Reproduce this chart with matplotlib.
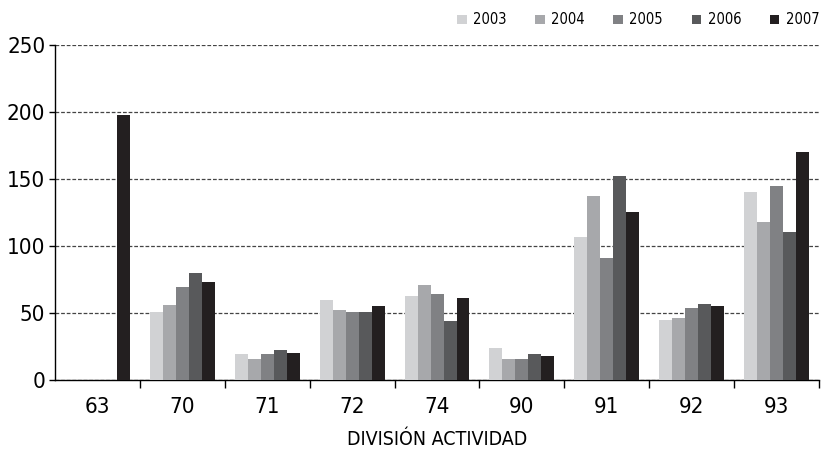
import numpy as np
import matplotlib.pyplot as plt

# 데이터
divisiones = ['63', '70', '71', '72', '74', '90', '91', '92', '93']
anios = ['2003', '2004', '2005', '2006', '2007']
v2003 = [0, 51, 19.5, 59.5, 63, 23.5, 107, 45, 140]
v2004 = [0, 56, 15.5, 52, 70.5, 15.5, 137, 46, 118]
v2005 = [0, 69, 19.5, 51, 64.5, 15.5, 91, 53.5, 144.5]
v2006 = [0, 79.5, 22.5, 51, 44, 19, 152, 57, 110.5]
v2007 = [197.5, 73, 20, 55, 61, 18, 125, 55, 170.5]
colores = ['#d1d2d4', '#a7a8ab', '#808184', '#58595b', '#231f20']

plt.rcParams['font.family'] = ['DejaVu Sans']
plt.rcParams['font.stretch'] = 'condensed'

fig = plt.figure(figsize=(8.21, 4.55), dpi=100)
ax = fig.add_axes([0.067, 0.165, 0.9306, 0.736])

x = np.arange(len(divisiones))
ancho = 0.153
series = [v2003, v2004, v2005, v2006, v2007]
for i, (vals, col, lab) in enumerate(zip(series, colores, anios)):
    ax.bar(x + (i - 2) * ancho, vals, width=ancho, color=col, label=lab,
           zorder=3, linewidth=0)

ax.set_xlim(-0.5, len(divisiones) - 0.5)
ax.set_ylim(0, 250)
ax.set_yticks([0, 50, 100, 150, 200, 250])
ax.yaxis.grid(True, linestyle=(0, (3, 1.5)), color='#444444', linewidth=0.9, zorder=0)
ax.set_axisbelow(True)

ax.set_xticks(x)
ax.set_xticklabels(divisiones)
ax.set_xticks(np.arange(len(divisiones)) + 0.5, minor=True)
ax.tick_params(axis='x', which='major', length=0, labelsize=16, pad=12)
ax.tick_params(axis='x', which='minor', length=6, width=1, direction='out')
ax.tick_params(axis='y', length=4, width=1, labelsize=16, pad=3)

for s in ['top', 'right']:
    ax.spines[s].set_visible(False)
ax.spines['left'].set_linewidth(1)
ax.spines['bottom'].set_linewidth(1)

ax.set_xlabel('DIVISIÓN ACTIVIDAD', fontsize=14, labelpad=10)

ax.legend(loc='lower right', bbox_to_anchor=(1.008, 1.035), ncol=5, frameon=False,
          fontsize=10.5, handlelength=0.65, handleheight=0.65, columnspacing=1.95,
          handletextpad=0.45, borderaxespad=0)

plt.savefig('out.png', dpi=100)
